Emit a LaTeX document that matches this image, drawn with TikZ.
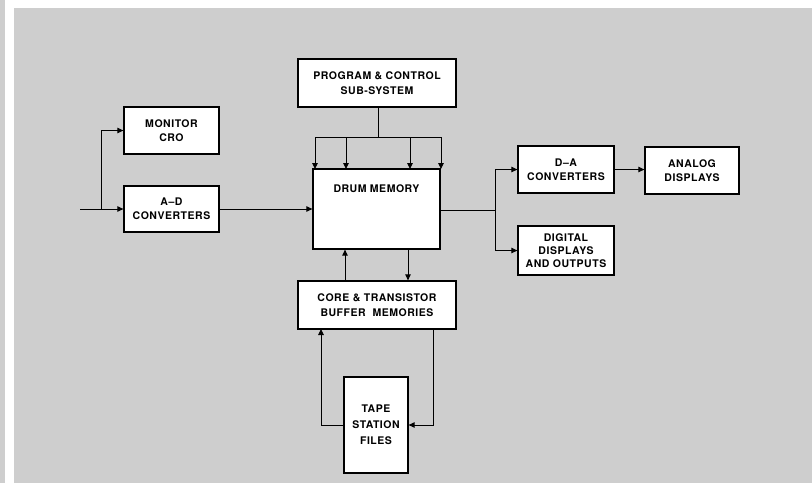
\documentclass[tikz,border=0pt]{standalone}
\usepackage{fontspec}
\setmainfont{TeX Gyre Heros}[LetterSpace=5]
\usetikzlibrary{arrows.meta}
\definecolor{bggray}{RGB}{206,206,206}
\tikzset{
  blk/.style={draw=black, line width=1.3pt, fill=white, rectangle, inner sep=0pt,
    font=\bfseries\fontsize{10.5}{15}\selectfont, align=center},
  wire/.style={line width=0.9pt, draw=black},
  arr/.style={wire, -{Triangle[length=6pt,width=5.5pt]}}
}
\begin{document}
\begin{tikzpicture}[x=1pt,y=-1pt]
\useasboundingbox (0,0) rectangle (812,483);
% background
\fill[bggray] (0,0) rectangle (812,483);
\fill[white] (5,0) rectangle (14,483);
\fill[white] (14,0) rectangle (812,8);
% boxes
\node[blk, minimum width=158pt, minimum height=48pt] (prog) at (377,83) {PROGRAM \& CONTROL\\SUB-SYSTEM};
\node[blk, minimum width=95pt, minimum height=47pt, font=\bfseries\fontsize{10.5}{14}\selectfont] (mon) at (171.5,130.5) {MONITOR\\CRO};
\node[blk, minimum width=95pt, minimum height=46pt, font=\bfseries\fontsize{10.5}{14}\selectfont] (ad) at (171.5,209) {A--D\\CONVERTERS};
\node[blk, minimum width=127pt, minimum height=80pt] (drum) at (376.5,209) {};
\node[font=\bfseries\fontsize{10.5}{14}\selectfont, anchor=center] (drumtxt) at (376.5,189) {DRUM MEMORY};
\node[blk, minimum width=158pt, minimum height=48pt] (core) at (377,305) {CORE \& TRANSISTOR\\BUFFER\ \ MEMORIES};
\node[blk, minimum width=64pt, minimum height=96pt, font=\bfseries\fontsize{10.5}{16}\selectfont] (tape) at (376,425) {TAPE\\STATION\\FILES};
\node[blk, minimum width=96pt, minimum height=47pt, font=\bfseries\fontsize{10.5}{14}\selectfont] (da) at (566,169.5) {D--A\\CONVERTERS};
\node[blk, minimum width=94pt, minimum height=47pt, font=\bfseries\fontsize{10.5}{14}\selectfont] (ana) at (692,170.5) {ANALOG\\DISPLAYS};
\node[blk, minimum width=96pt, minimum height=49pt, font=\bfseries\fontsize{10.5}{13}\selectfont] (dig) at (566,250.5) {DIGITAL\\DISPLAYS\\AND OUTPUTS};
% coordinates
\coordinate (in) at (80,209);
\coordinate (br) at (101,209);
\coordinate (bus) at (378,137);
\coordinate (split) at (495,210);
% input
\draw[arr] (in) -- (ad.west);
\draw[arr] (br) |- (mon.west);
\draw[arr] (ad.east) -- (drum.west);
% program bus
\draw[wire] (prog.south -| bus) -- (bus);
\draw[wire] (315,137) -- (441,137);
\draw[arr] (315,137) -- (315,169);
\draw[arr] (346,137) -- (346,169);
\draw[arr] (410,137) -- (410,169);
\draw[arr] (441,137) -- (441,169);
% outputs
\draw[wire] (drum.east |- split) -- (split);
\draw[arr] (split) |- (da.west);
\draw[arr] (split) |- (dig.west);
\draw[arr] (da.east) -- (ana.west |- da.east);
% drum <-> core
\draw[arr] (core.north -| 345,0) -- (drum.south -| 345,0);
\draw[arr] (drum.south -| 408,0) -- (core.north -| 408,0);
% core <-> tape
\draw[arr] (tape.west) -| (321,329);
\draw[arr] (433,329) |- (tape.east);
\end{tikzpicture}
\end{document}
